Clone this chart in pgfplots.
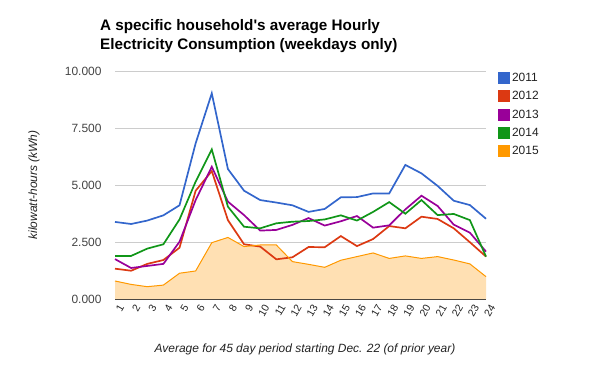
\documentclass[border=0pt]{standalone}
\usepackage{pgfplots}
\pgfplotsset{compat=1.18}
\usepackage{pgfplotstable}
\usepackage{fontspec}
\setmainfont{Liberation Sans}
\definecolor{gblue}{HTML}{3366CC}
\definecolor{gred}{HTML}{DC3912}
\definecolor{gpurple}{HTML}{990099}
\definecolor{ggreen}{HTML}{109618}
\definecolor{gorange}{HTML}{FF9900}
\definecolor{gfill}{HTML}{FFE0B3}
\definecolor{ggrid}{HTML}{CCCCCC}
\definecolor{gtext}{HTML}{222222}
\definecolor{gtick}{HTML}{444444}

\pgfplotstableread{
h y11 y12 y13 y14 y15
1 3.38 1.33 1.75 1.89 0.79
2 3.29 1.24 1.36 1.89 0.64
3 3.44 1.54 1.45 2.21 0.54
4 3.67 1.71 1.54 2.40 0.61
5 4.11 2.25 2.51 3.49 1.13
6 6.83 4.75 4.34 5.15 1.23
7 9.02 5.61 5.80 6.56 2.47
8 5.70 3.46 4.27 4.05 2.70
9 4.75 2.40 3.68 3.17 2.30
10 4.34 2.30 3.00 3.10 2.37
11 4.23 1.74 3.03 3.32 2.37
12 4.11 1.83 3.25 3.39 1.64
13 3.82 2.28 3.55 3.42 1.52
14 3.95 2.27 3.22 3.49 1.39
15 4.46 2.76 3.41 3.67 1.70
16 4.47 2.32 3.64 3.44 1.86
17 4.63 2.63 3.13 3.82 2.02
18 4.63 3.20 3.23 4.25 1.78
19 5.88 3.10 3.93 3.74 1.89
20 5.51 3.61 4.53 4.34 1.78
21 4.96 3.51 4.08 3.68 1.86
22 4.31 3.10 3.26 3.73 1.71
23 4.12 2.49 2.91 3.46 1.54
24 3.52 1.86 2.08 1.86 0.98
}\datatable

\begin{document}
\begin{tikzpicture}[x=1bp,y=1bp]
\path[use as bounding box] (0,0) rectangle (600,371);
\begin{axis}[
  at={(115bp,72bp)}, anchor=south west,
  scale only axis, width=371bp, height=228bp,
  xmin=1, xmax=24, ymin=0, ymax=10,
  axis x line*=bottom, axis y line*=left,
  x axis line style={color=black!80, line width=1pt, -},
  y axis line style={draw=none},
  xtick={1,...,24},
  ytick={0,2.5,5,7.5,10},
  major tick length=0pt,
  ymajorgrids, grid style={ggrid, line width=0.8pt},
  /pgf/number format/assume math mode=true,
  yticklabel style={/pgf/number format/.cd, fixed, fixed zerofill, precision=3, /tikz/.cd,
     font=\fontsize{12}{14}\selectfont, text=gtick, anchor=east, xshift=-10bp},
  xticklabel style={font=\fontsize{10.5}{12}\selectfont, text=gtext, rotate=60, anchor=east, xshift=1bp, yshift=-9bp},
  clip=false,
  legend style={at={(1.032,1.0)}, anchor=north west, draw=none, fill=none,
     font=\fontsize{12}{14}\selectfont, text=gtext, row sep=4.5bp,
     inner sep=0pt, cells={anchor=west}},
  legend cell align=left,
  legend image code/.code={\fill[#1, draw=none] (0bp,-6bp) rectangle (12bp,6bp);},
]
\addplot[fill=gfill, draw=none, forget plot] table[x=h, y=y15] {\datatable} \closedcycle;
\addplot[color=gblue, line width=1.7pt] table[x=h, y=y11] {\datatable};
\addlegendentry{2011}
\addplot[color=gred, line width=1.7pt] table[x=h, y=y12] {\datatable};
\addlegendentry{2012}
\addplot[color=gpurple, line width=1.7pt] table[x=h, y=y13] {\datatable};
\addlegendentry{2013}
\addplot[color=ggreen, line width=1.7pt] table[x=h, y=y14] {\datatable};
\addlegendentry{2014}
\addplot[color=gorange, line width=1pt] table[x=h, y=y15] {\datatable};
\addlegendentry{2015}
\end{axis}
\node[anchor=north west, align=left, font=\fontsize{15.3}{19}\selectfont\bfseries, text=black, inner sep=0pt] at (100,352) {A specific household\textquotesingle s average Hourly\\Electricity Consumption (weekdays only)};
\node[rotate=90, font=\fontsize{12}{14}\selectfont\itshape, text=gtext] at (34,186) {kilowatt-hours (kWh)};
\node[font=\fontsize{12}{14}\selectfont\itshape, text=gtext] at (305,22) {Average for 45 day period starting Dec. 22 (of prior year)};
\end{tikzpicture}
\end{document}
